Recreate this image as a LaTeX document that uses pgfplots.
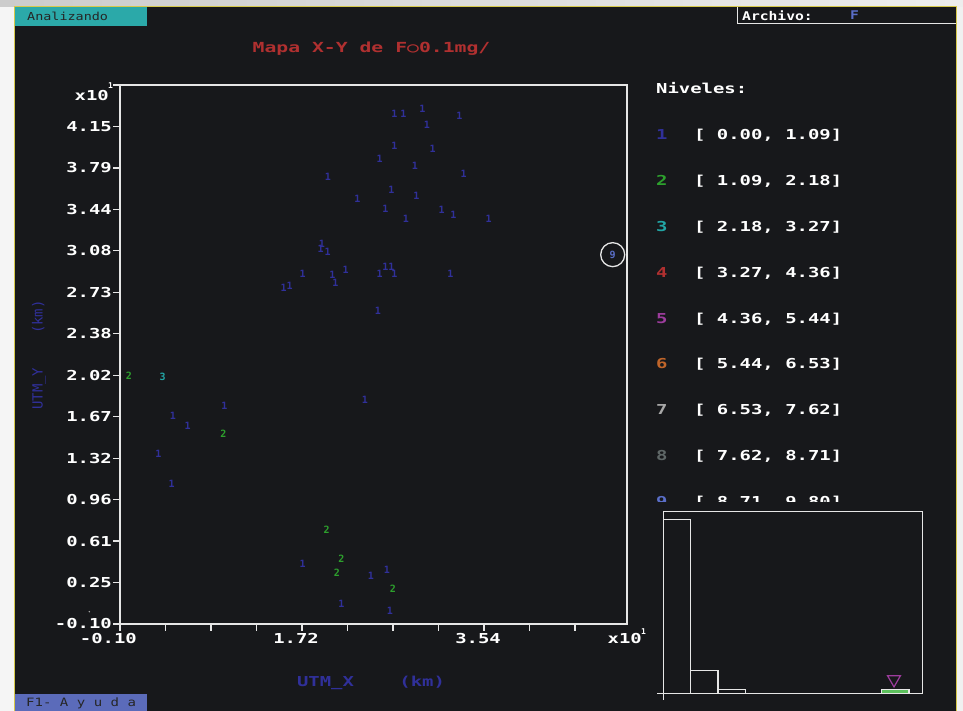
\documentclass[border=0pt]{standalone}
\usepackage{pgfplots}
\pgfplotsset{compat=1.18}
\usepackage{fontspec}
\setmainfont{DejaVu Sans Mono}
\newfontfamily\dos[FakeStretch=1.38]{DejaVu Sans Mono}
\newfontfamily\dosT[FakeStretch=1.42]{DejaVu Sans Mono}
\newfontfamily\dosA[FakeStretch=1.22]{DejaVu Sans Mono}
\newfontfamily\mono{DejaVu Sans Mono}
\newcommand\tickfont{\dos\bfseries\fontsize{13.7}{14}\selectfont}
\newcommand\markfont{\mono\bfseries\fontsize{10}{10}\selectfont}
\definecolor{bg}{HTML}{17181B}
\definecolor{axiscol}{HTML}{E6E6E6}
\definecolor{cA}{HTML}{30309A}
\definecolor{cB}{HTML}{2DA02D}
\definecolor{cC}{HTML}{22A5A5}
\definecolor{cD}{HTML}{B03030}
\definecolor{cE}{HTML}{9C3C9C}
\definecolor{cF}{HTML}{C0652A}
\definecolor{cG}{HTML}{A8A8A8}
\definecolor{cH}{HTML}{5F6767}
\definecolor{cI}{HTML}{5A6EC8}
\definecolor{tealbox}{HTML}{2BA9A9}
\definecolor{f1box}{HTML}{5B6BBA}
\definecolor{yel}{HTML}{D6C84A}
\definecolor{histgreen}{HTML}{5CC05C}
\begin{document}
\begin{tikzpicture}[x=1pt,y=1pt]
\useasboundingbox (0,0) rectangle (963,711);
\fill[bg] (0,0) rectangle (963,711);
\fill[white!96!black] (0,0) rectangle (14,711);
\fill[white!94!black] (956,0) rectangle (963,711);
\shade[left color=white!80!black, right color=white!93!black] (0,704) rectangle (963,711);
\draw[yel, line width=1pt] (14,0) -- (14,704) -- (956,704) -- (956,0);
% top bar
\fill[tealbox] (14.5,685) rectangle (147,703.5);
\node[anchor=west, inner sep=0, text=black!85] at (27,695) {\dosA\fontsize{11}{12}\selectfont Analizando};
\draw[axiscol, line width=1pt] (737,704) -- (737,687) -- (956,687);
\node[anchor=west, inner sep=0, text=white] at (742,695.5) {\dosA\bfseries\fontsize{12}{12}\selectfont Archivo:};
\node[anchor=west, inner sep=0, text=cI] at (850,695.5) {\dosA\bfseries\fontsize{12}{12}\selectfont F};
% title
\node[text=cD, inner sep=0] at (371.5,662) {\dosT\bfseries\fontsize{13.9}{14}\selectfont Mapa X-Y de F○0.1mg/};
% bottom help box
\fill[f1box] (14.5,0) rectangle (147,17);
\node[anchor=west, inner sep=0, text=black!85] at (26,7.5) {\dosA\fontsize{11.5}{12}\selectfont F1- A y u d a};
% axis labels
\node[text=cA, inner sep=0] at (371,28) {\dos\bfseries\fontsize{13.7}{14}\selectfont UTM\_X\ \ \ \ (km)};
\node[text=cA, inner sep=0, rotate=90] at (39,356) {\mono\fontsize{14}{14}\selectfont UTM\_Y\ \ \ \ (km)};
% x10 labels
\node[anchor=east, inner sep=0, text=white] at (109,615) {\tickfont x10};
\node[inner sep=0, text=white] at (110.5,625) {\mono\bfseries\fontsize{8}{8}\selectfont 1};
\node[anchor=east, inner sep=0, text=white] at (642,72) {\tickfont x10};
\node[inner sep=0, text=white] at (643.5,79.5) {\mono\bfseries\fontsize{8}{8}\selectfont 1};
\fill[white!70!black] (89.3,99.3) circle (0.8);
% legend
\node[anchor=base west, inner sep=0, text=white] at (656,617) {\tickfont Niveles:};
\foreach \c/\lab/\cy in {cA/1/135, cB/2/180.7, cC/3/226.7, cD/4/272.3, cE/5/318.3, cF/6/364, cG/7/410, cH/8/455.7, cI/9/501.6}{
  \node[anchor=base west, inner sep=0, text=\c] at (656,{711-\cy-5}) {\tickfont \lab};
}
\node[anchor=base west, inner sep=0, text=white] at (694,571) {\tickfont [ 0.00, 1.09]};
\node[anchor=base west, inner sep=0, text=white] at (694,525.3) {\tickfont [ 1.09, 2.18]};
\node[anchor=base west, inner sep=0, text=white] at (694,479.3) {\tickfont [ 2.18, 3.27]};
\node[anchor=base west, inner sep=0, text=white] at (694,433.7) {\tickfont [ 3.27, 4.36]};
\node[anchor=base west, inner sep=0, text=white] at (694,387.7) {\tickfont [ 4.36, 5.44]};
\node[anchor=base west, inner sep=0, text=white] at (694,342) {\tickfont [ 5.44, 6.53]};
\node[anchor=base west, inner sep=0, text=white] at (694,296) {\tickfont [ 6.53, 7.62]};
\node[anchor=base west, inner sep=0, text=white] at (694,250.3) {\tickfont [ 7.62, 8.71]};
\node[anchor=base west, inner sep=0, text=white] at (694,204.4) {\tickfont [ 8.71, 9.80]};
\fill[bg] (650,0) rectangle (945,209);
% main map
\begin{axis}[at={(120pt,87pt)}, anchor=south west, scale only axis,
  width=507pt, height=539pt,
  xmin=-0.1, xmax=4.97, ymin=-0.1, ymax=4.5, clip=false,
  axis line style={draw=axiscol, line width=1.5pt},
  tick style={draw=axiscol, line width=1.2pt},
  tick align=outside, major tick length=7pt, minor tick length=6pt,
  xtick pos=lower, ytick pos=left,
  xtick={-0.1,0.355,0.81,1.265,1.72,2.175,2.63,3.085,3.54,3.995,4.45},
  xticklabels={-0.10,,,,1.72,,,,3.54,,},
  ytick={-0.1,0.25385,0.60769,0.96154,1.31538,1.66923,2.02308,2.37692,2.73077,3.08462,3.43846,3.79231,4.14615,4.5},
  yticklabels={-0.10,0.25,0.61,0.96,1.32,1.67,2.02,2.38,2.73,3.08,3.44,3.79,4.15,{}},
  minor y tick num=3,
  ticklabel style={font=\tickfont, text=white},
  yticklabel style={inner sep=1pt},
  xticklabel style={anchor=north east, xshift=19pt, inner sep=2pt},
]
\addplot[only marks, mark=text, text mark={1}, text mark as node=true, text mark style={font=\markfont, text=cA, inner sep=0}, color=cA] table {
2.643 4.250
2.733 4.250
2.923 4.298
3.293 4.235
2.970 4.158
2.643 3.982
3.027 3.956
2.497 3.868
2.850 3.806
3.337 3.743
1.980 3.715
2.613 3.606
2.273 3.530
2.863 3.553
2.553 3.439
3.117 3.431
3.233 3.390
2.760 3.356
3.587 3.354
1.920 3.140
1.907 3.098
1.977 3.075
1.727 2.887
2.023 2.876
2.053 2.810
2.157 2.921
1.537 2.770
1.597 2.784
2.497 2.887
2.643 2.887
2.553 2.949
2.613 2.949
3.203 2.887
2.480 2.571
2.350 1.812
0.943 1.763
0.430 1.675
0.577 1.587
0.283 1.348
0.417 1.095
1.727 0.415
2.113 0.075
2.410 0.312
2.570 0.363
2.600 0.011
};
\addplot[only marks, mark=text, text mark={2}, text mark as node=true, text mark style={font=\markfont, text=cB, inner sep=0}, color=cB] table {
-0.010 2.016
0.933 1.524
1.967 0.708
2.113 0.455
2.070 0.341
2.630 0.201
};
\addplot[only marks, mark=text, text mark={3}, text mark as node=true, text mark style={font=\markfont, text=cC, inner sep=0}, color=cC] table {
0.327 2.005
};
\addplot[only marks, mark=text, text mark={9}, text mark as node=true, text mark style={font=\markfont, text=cI, inner sep=0}, color=cI] table {
4.827 3.052
};
\addplot[only marks, mark=o, mark size=12pt, mark options={draw=axiscol, line width=1.3pt}] table {
4.827 3.052
};
\end{axis}
% histogram
\begin{axis}[at={(663.3pt,17.7pt)}, anchor=south west, scale only axis,
  width=259.4pt, height=181.6pt,
  xmin=0, xmax=10.345, ymin=0, ymax=47.1, clip=false,
  axis line style={draw=axiscol, line width=1.2pt},
  xtick=\empty, ytick=\empty]
\addplot[ybar interval, draw=axiscol, fill=none, line width=1.2pt] coordinates {(0,45) (1.089,6) (2.178,1) (3.267,1)};
\addplot[ybar interval, draw=axiscol, fill=histgreen, line width=1.2pt] coordinates {(8.711,1) (9.8,1)};
\addplot[only marks, mark=triangle, mark size=7.5pt, mark options={rotate=180, draw=cE, line width=1.2pt, fill=none}] coordinates {(9.2,3.6)};
\end{axis}
\draw[axiscol, line width=1.2pt] (663.3,17.7) -- (663.3,11);
\draw[axiscol, line width=1.2pt] (663.3,17.7) -- (656.7,17.7);
\end{tikzpicture}
\end{document}
